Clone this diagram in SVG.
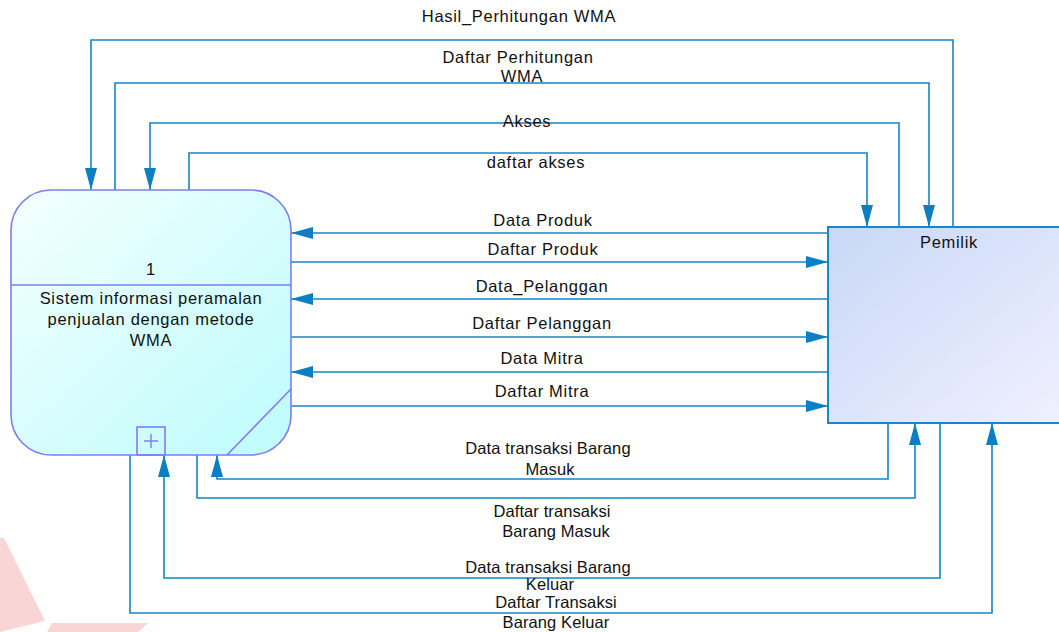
<svg xmlns="http://www.w3.org/2000/svg" width="1059" height="632" viewBox="0 0 1059 632">
  <defs>
    <linearGradient id="procFill" x1="0" y1="0" x2="1" y2="1">
      <stop offset="0" stop-color="#f4ffff"/>
      <stop offset="1" stop-color="#bdfbfb"/>
    </linearGradient>
    <linearGradient id="entFill" x1="0" y1="0" x2="1" y2="1">
      <stop offset="0" stop-color="#c8d8f6"/>
      <stop offset="1" stop-color="#f0f0ff"/>
    </linearGradient>
    <marker id="arrow" viewBox="0 0 22 12" refX="22" refY="6" markerWidth="22" markerHeight="12" markerUnits="userSpaceOnUse" orient="auto">
      <path d="M0,0 L22,6 L0,12 Z" fill="#0b7fc1"/>
    </marker>
    <style>
      .flow { fill: none; stroke: #1784c5; stroke-width: 1.6; }
      .head { marker-end: url(#arrow); }
      .lbl { font-family: "Liberation Sans", Arial, sans-serif; font-size: 16.5px; fill: #111; text-anchor: middle; letter-spacing: 0.7px; }
      .tight { letter-spacing: 0.1px; }
      .proc { fill: url(#procFill); stroke: #7d7df2; stroke-width: 1.6; }
      .ent { fill: url(#entFill); stroke: #1a86c8; stroke-width: 2; }
    </style>
  </defs>

  <rect width="1059" height="632" fill="#ffffff"/>

  <!-- faint background mark, lower left -->
  <g id="backdrop-mark" fill="#f9c4c4" opacity="0.7">
    <polygon points="0,538 4,538 45,621 0,632"/>
    <polygon points="52,623 148,623 138,632 47,632"/>
  </g>

  <!-- connectors -->
  <g id="connectors">
    <!-- top routes -->
    <path class="flow head" d="M953,227 V40 H91 V190"/>
    <path class="flow head" d="M115,190 V83 H929 V227"/>
    <path class="flow head" d="M899,227 V123 H150 V190"/>
    <path class="flow head" d="M189,190 V153 H867 V227"/>
    <!-- horizontal flows -->
    <path class="flow head" d="M828,233 H291"/>
    <path class="flow head" d="M291,262 H828"/>
    <path class="flow head" d="M828,299 H291"/>
    <path class="flow head" d="M291,337 H828"/>
    <path class="flow head" d="M828,372 H291"/>
    <path class="flow head" d="M291,406 H828"/>
    <!-- bottom routes -->
    <path class="flow head" d="M888,423 V479 H217 V455"/>
    <path class="flow head" d="M197,455 V498 H915 V423"/>
    <path class="flow head" d="M940,423 V578 H164 V455"/>
    <path class="flow head" d="M130,455 V613 H992 V423"/>
  </g>

  <!-- connector labels -->
  <g id="labels">
    <text class="lbl" x="519" y="22">Hasil_Perhitungan WMA</text>
    <text class="lbl" x="518" y="63">Daftar Perhitungan</text>
    <text class="lbl" x="522" y="82">WMA</text>
    <text class="lbl" x="527" y="127">Akses</text>
    <text class="lbl" x="536" y="168">daftar akses</text>
    <text class="lbl" x="543" y="226">Data Produk</text>
    <text class="lbl" x="543" y="255">Daftar Produk</text>
    <text class="lbl" x="542" y="292">Data_Pelanggan</text>
    <text class="lbl" x="542" y="329">Daftar Pelanggan</text>
    <text class="lbl" x="542" y="364">Data Mitra</text>
    <text class="lbl" x="542" y="397">Daftar Mitra</text>
    <text class="lbl tight" x="548" y="454">Data transaksi Barang</text>
    <text class="lbl tight" x="550" y="475">Masuk</text>
    <text class="lbl tight" x="552" y="517">Daftar transaksi</text>
    <text class="lbl tight" x="556" y="537">Barang Masuk</text>
    <text class="lbl tight" x="548" y="573">Data transaksi Barang</text>
    <text class="lbl tight" x="550" y="590">Keluar</text>
    <text class="lbl tight" x="556" y="608">Daftar Transaksi</text>
    <text class="lbl tight" x="556" y="628">Barang Keluar</text>
  </g>

  <!-- process 1 -->
  <g id="process-1">
    <rect class="proc" x="11" y="190" width="280" height="265" rx="40" ry="40"/>
    <line x1="11" y1="285" x2="291" y2="285" stroke="#7d7df2" stroke-width="1.6"/>
    <line x1="291" y1="389" x2="227" y2="455" stroke="#7d7df2" stroke-width="1.6"/>
    <rect x="137" y="427" width="28" height="28" fill="none" stroke="#7d7df2" stroke-width="1.6"/>
    <path d="M144,441 H158 M151,434 V448" stroke="#7d7df2" stroke-width="1.4" fill="none"/>
    <text class="lbl" x="151" y="275">1</text>
    <text class="lbl" x="151" y="304">Sistem informasi peramalan</text>
    <text class="lbl" x="151" y="325">penjualan dengan metode</text>
    <text class="lbl" x="151" y="346">WMA</text>
  </g>

  <!-- external entity -->
  <g id="pemilik">
    <rect class="ent" x="828" y="227" width="240" height="196"/>
    <text class="lbl" x="949" y="248">Pemilik</text>
  </g>
</svg>
